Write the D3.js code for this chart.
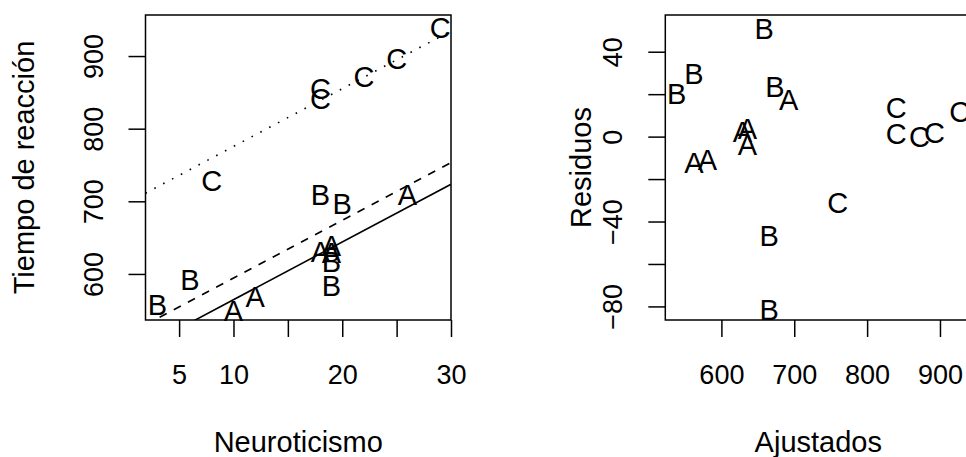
<!DOCTYPE html>
<html>
<head>
<meta charset="utf-8">
<script src="https://cdn.jsdelivr.net/npm/d3@7"></script>
<style>
  body { margin: 0; background: #fff; }
  text { font-family: "Liberation Sans", Arial, Helvetica, sans-serif; fill: #000; }
</style>
</head>
<body>
<div id="chart"></div>
<script>
const width = 966;
const height = 457;
const tickFont = 27;
const labelFont = 29;
const pointFont = 29;

// observations: group, neuroticism score, reaction time
const grupo = ["A","A","A","A","A","A","B","B","B","B","B","B","C","C","C","C","C","C"];
const neuroticismo = [10, 12, 18, 19, 19, 26, 3, 6, 18, 19, 19, 20, 8, 18, 18, 22, 25, 29];
const tiempo = [550, 569, 630.5, 638.5, 630, 709, 558.5, 592, 709.7, 617, 584, 697.2, 729, 842, 855.5, 872.2, 897, 939.2];

// fitted values and residuals of the model
const ajustados = [562.4, 580.7, 628.9, 635.8, 635.8, 692.2, 538.5, 562.4, 658.7, 665.6, 665.6, 673.3, 759.6, 839.8, 839.8, 871.9, 892.6, 927];
const residuos = [-12.4, -10.8, 2.2, 3.8, -3.6, 17.6, 20.5, 29.6, 50.8, -46.4, -81.7, 23.7, -31.2, 1.4, 13.9, -0.2, 1.7, 11.6];

// fitted lines per group (common slope)
const lineGroups = ["A", "B", "C"];
const lineIntercepts = [485, 514.8, 696];
const lineSlope = 7.95;
const lineDash = [null, "8,8", "1.6,8.4"];

// axis ticks
const xTicksLeft = [5, 10, 15, 20, 25, 30];
const xLabelsLeft = [5, 10, 20, 30];
const yTicksLeft = [600, 700, 800, 900];
const xTicksRight = [600, 700, 800, 900];
const yTicksRight = [-80, -60, -40, -20, 0, 20, 40];
const yLabelsRight = [-80, -40, 0, 40];

const svg = d3.select("#chart").append("svg")
    .attr("width", width)
    .attr("height", height);

const plotTop = 15, plotBottom = 320;

function panel(opts) {
    const xScale = d3.scaleLinear().domain(opts.xDomain).range([opts.left, opts.right]);
    const yScale = d3.scaleLinear().domain(opts.yDomain).range([plotBottom, plotTop]);

    const g = svg.append("g");

    // x axis
    const xAxis = d3.axisBottom(xScale)
        .tickValues(opts.xTicks)
        .tickSize(17)
        .tickFormat(d => opts.xLabels.includes(d) ? d3.format("d")(d).replace("-", "\u2212") : "");
    const gx = g.append("g")
        .attr("transform", `translate(0,${plotBottom})`)
        .call(xAxis);
    gx.select(".domain").remove();
    gx.selectAll("line").attr("stroke", "#000").attr("stroke-width", 1.5);
    gx.selectAll("text")
        .attr("y", 63.5).attr("dy", 0)
        .style("font-size", tickFont + "px");
    gx.attr("font-family", null).attr("font-size", null);

    // y axis, labels parallel to axis
    const yAxis = d3.axisLeft(yScale)
        .tickValues(opts.yTicks)
        .tickSize(17)
        .tickFormat(d => opts.yLabels.includes(d) ? d3.format("d")(d).replace("-", "\u2212") : "");
    const gy = g.append("g")
        .attr("transform", `translate(${opts.left},0)`)
        .call(yAxis);
    gy.select(".domain").remove();
    gy.selectAll("line").attr("stroke", "#000").attr("stroke-width", 1.5);
    gy.selectAll("text")
        .attr("transform", "rotate(-90)")
        .attr("x", 0).attr("y", -43).attr("dy", 0)
        .attr("text-anchor", "middle")
        .style("font-size", tickFont + "px");
    gy.attr("font-family", null).attr("font-size", null);

    // clip region for lines
    const clipId = "clip-" + opts.name;
    svg.append("clipPath").attr("id", clipId)
        .append("rect")
        .attr("x", opts.left).attr("y", plotTop)
        .attr("width", opts.right - opts.left).attr("height", plotBottom - plotTop);

    if (opts.lines) {
        const xd = xScale.domain();
        g.append("g").attr("clip-path", `url(#${clipId})`)
            .selectAll("line")
            .data(lineGroups)
            .enter()
            .append("line")
            .attr("x1", xScale(xd[0]))
            .attr("x2", xScale(xd[1]))
            .attr("y1", (d, i) => yScale(lineIntercepts[i] + lineSlope * xd[0]))
            .attr("y2", (d, i) => yScale(lineIntercepts[i] + lineSlope * xd[1]))
            .attr("stroke", "#000")
            .attr("stroke-width", 1.6)
            .attr("stroke-dasharray", (d, i) => lineDash[i]);
    }

    // letters as points
    g.append("g").selectAll("text")
        .data(grupo)
        .enter()
        .append("text")
        .attr("x", (d, i) => xScale(opts.xs[i]))
        .attr("y", (d, i) => yScale(opts.ys[i]))
        .attr("dy", "0.36em")
        .attr("text-anchor", "middle")
        .style("font-size", pointFont + "px")
        .text(d => d);

    // plot box
    g.append("rect")
        .attr("x", opts.left).attr("y", plotTop)
        .attr("width", opts.right - opts.left).attr("height", plotBottom - plotTop)
        .attr("fill", "none")
        .attr("stroke", "#000")
        .attr("stroke-width", 1.5);

    // axis titles
    g.append("text")
        .attr("x", (opts.left + opts.right) / 2)
        .attr("y", 452)
        .attr("text-anchor", "middle")
        .style("font-size", labelFont + "px")
        .text(opts.xTitle);

    g.append("text")
        .attr("transform", `translate(${opts.yTitleX},${(plotTop + plotBottom) / 2}) rotate(-90)`)
        .attr("text-anchor", "middle")
        .style("font-size", labelFont + "px")
        .text(opts.yTitle);
}

panel({
    name: "left",
    left: 145.5, right: 451,
    xDomain: [1.91, 30], yDomain: [536.6, 956.5],
    xTicks: xTicksLeft, xLabels: xLabelsLeft,
    yTicks: yTicksLeft, yLabels: yTicksLeft,
    xs: neuroticismo, ys: tiempo,
    lines: true,
    xTitle: "Neuroticismo", yTitle: "Tiempo de reacción",
    yTitleX: 34
});

panel({
    name: "right",
    left: 665.3, right: 971.3,
    xDomain: [523, 943], yDomain: [-86.4, 57.3],
    xTicks: xTicksRight, xLabels: xTicksRight,
    yTicks: yTicksRight, yLabels: yLabelsRight,
    xs: ajustados, ys: residuos,
    lines: false,
    xTitle: "Ajustados", yTitle: "Residuos",
    yTitleX: 591
});
</script>
</body>
</html>
